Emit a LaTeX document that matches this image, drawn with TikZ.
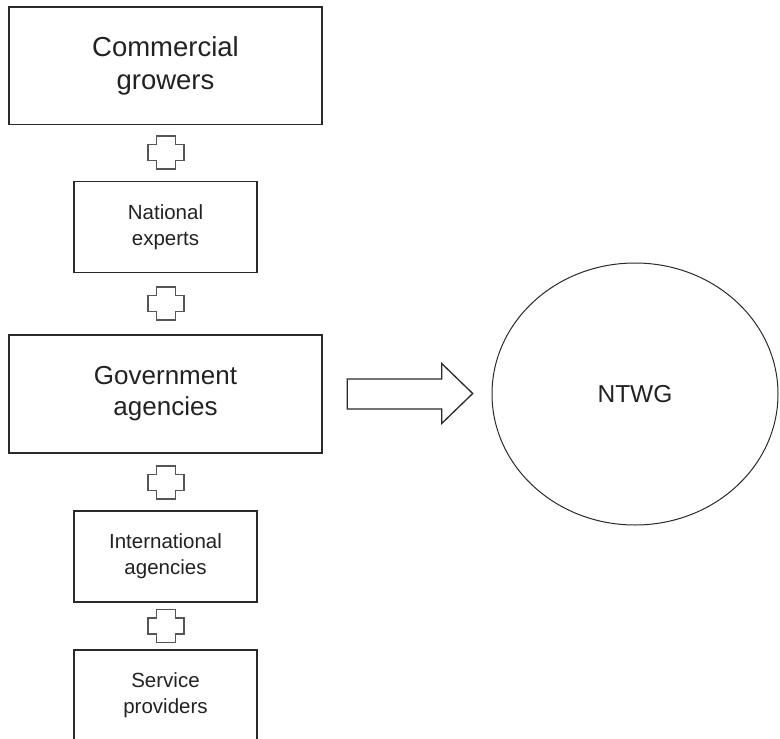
\documentclass[tikz,border=0pt]{standalone}
\usepackage{fontspec}
\setmainfont{Liberation Sans}
\usetikzlibrary{shapes.geometric}
\definecolor{linec}{HTML}{2A2A2A}
\definecolor{plusc}{HTML}{555555}
\definecolor{textc}{HTML}{222222}
\begin{document}
\begin{tikzpicture}[x=1pt,y=-1pt,
  bigbox/.style={draw=linec, line width=1.4pt, minimum width=313pt, minimum height=118pt, inner sep=0pt, align=center, text=textc, font=\fontsize{26}{31}\selectfont},
  smallbox/.style={draw=linec, line width=1.4pt, minimum width=183pt, minimum height=91pt, inner sep=0pt, align=center, text=textc, font=\fontsize{20.5}{26}\selectfont},
  plusshape/.style={draw=plusc, line width=1.5pt, fill=white},
  blockarrow/.style={draw=linec, line width=1.3pt, fill=white, line join=miter},
  ellipsenode/.style={draw=linec, line width=1pt, ellipse, minimum width=286pt, minimum height=262pt, inner sep=0pt, text=textc, font=\fontsize{24.5}{28}\selectfont}]
\useasboundingbox (0,0) rectangle (780,739);
\node[bigbox, minimum height=117.5pt, font=\fontsize{27.5}{33}\selectfont] (cg) at (165.5,65.75) {Commercial\\growers};
\node[smallbox] (ne) at (165.5,227) {National\\experts};
\node[bigbox] (ga) at (165.5,394) {Government\\agencies};
\node[smallbox] (ia) at (165.5,556.5) {International\\agencies};
\node[smallbox] (sp) at (165.5,695.5) {Service\\providers};
\node[ellipsenode] (ntwg) at (635,394) {NTWG};
\coordinate (p1) at (166,152.5);
\coordinate (p2) at (166,303.5);
\coordinate (p3) at (166,482.5);
\coordinate (p4) at (166,626);
\foreach \p in {p1,p2,p3,p4}{
  \draw[plusshape, shift={(\p)}] (-9.5,-16.5) -- (9.5,-16.5) -- (9.5,-8) -- (18,-8) -- (18,8) -- (9.5,8) -- (9.5,16.5) -- (-9.5,16.5) -- (-9.5,8) -- (-18,8) -- (-18,-8) -- (-9.5,-8) -- cycle;
}
\coordinate (atail) at ([xshift=24.5pt]ga.east);
\draw[blockarrow, shift={(atail)}] (0,-15) -- (94.5,-15) -- (94.5,-30.5) -- (125.5,-0.5) -- (94.5,29.5) -- (94.5,15) -- (0,15) -- cycle;
\end{tikzpicture}
\end{document}
